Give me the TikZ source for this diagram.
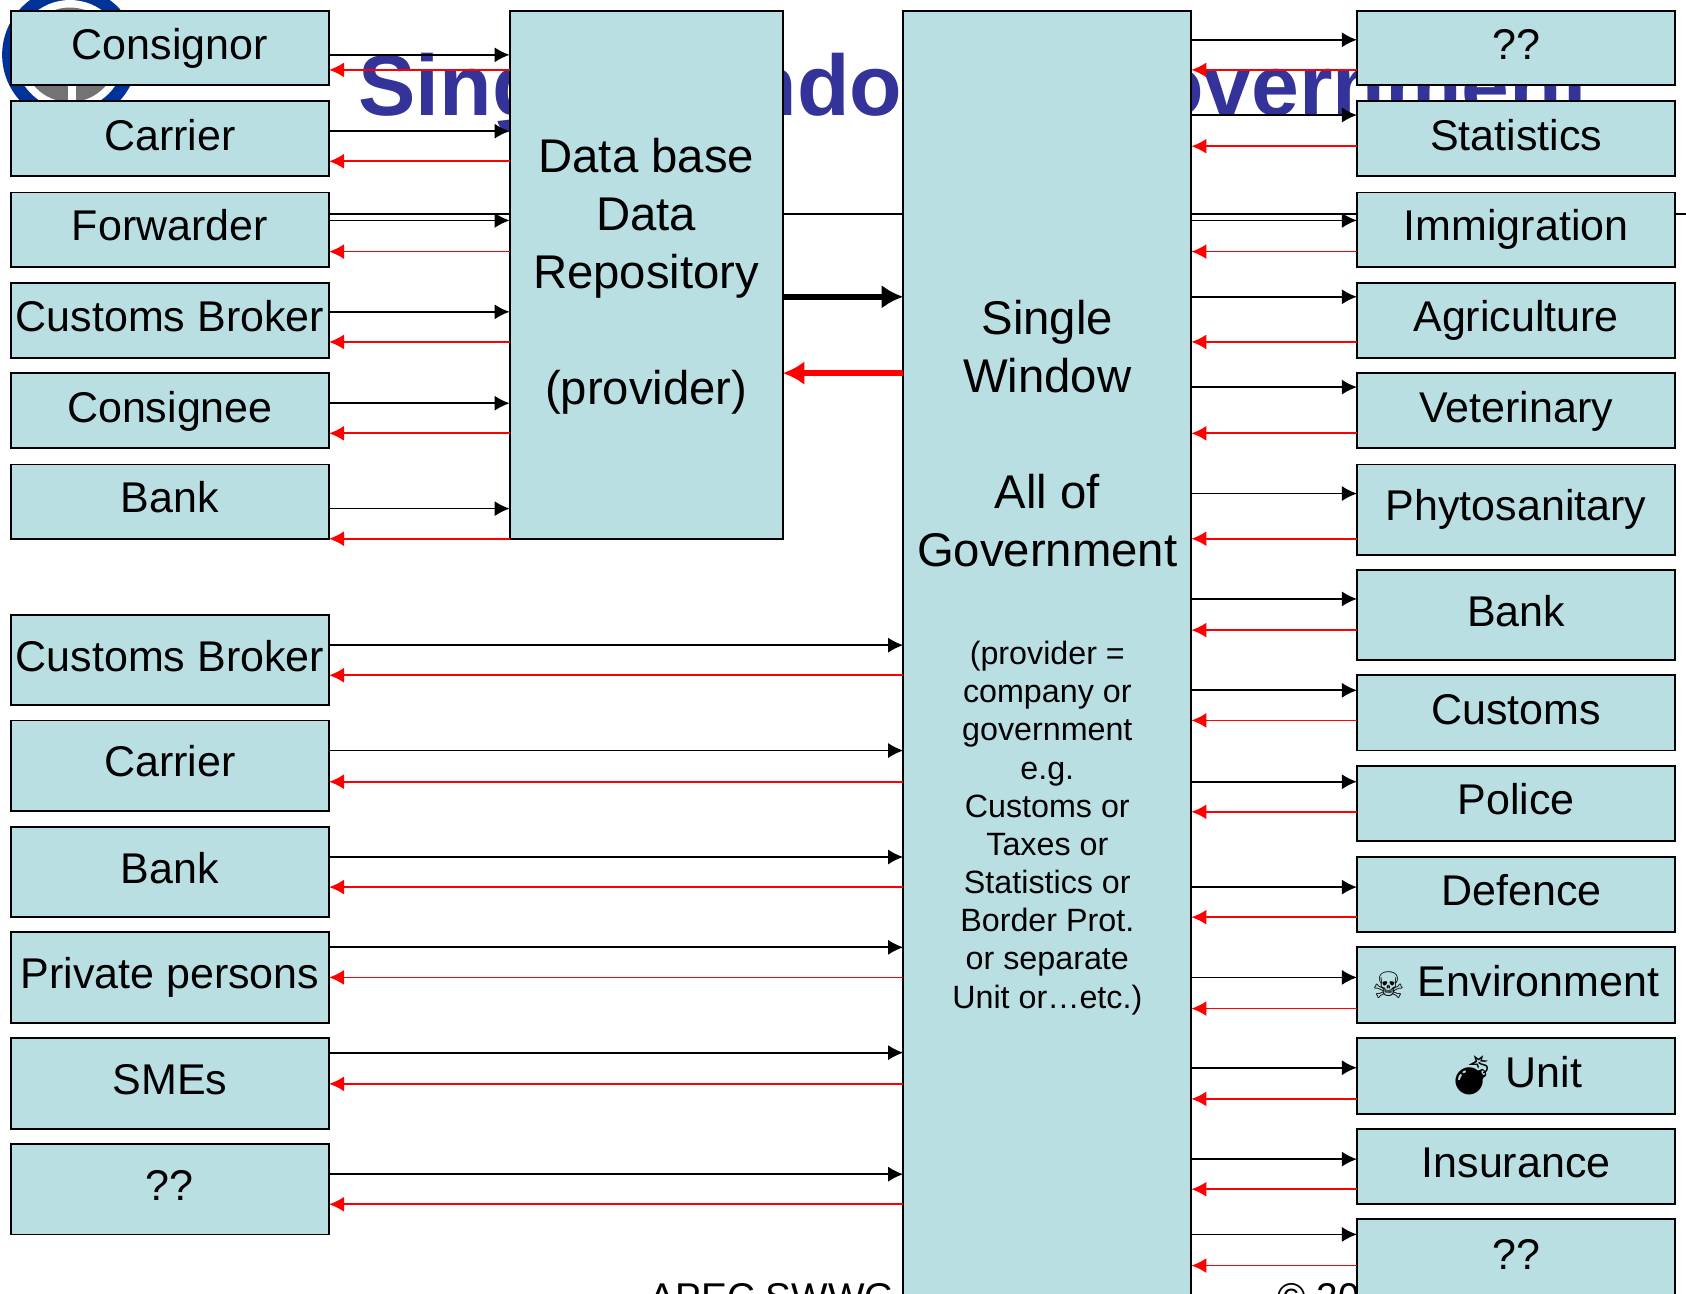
\documentclass[tikz,border=0pt]{standalone}
\usepackage{fontspec}
\setmainfont{Liberation Sans}
\newfontfamily\emojifont{Noto Emoji}
\newfontfamily\symfont{DejaVu Sans}
\usetikzlibrary{backgrounds,arrows.meta}
\definecolor{boxfill}{HTML}{B9DFE3}
\definecolor{titleblue}{HTML}{333399}
\definecolor{logoblue}{HTML}{003399}
\tikzset{
  x=1pt,y=-1pt,
  panel/.style={draw=black,line width=1.7pt,fill=boxfill,inner sep=0pt,outer sep=0pt,
    font=\fontsize{40}{48}\selectfont,text height=29pt,text depth=8pt,align=center},
  bigtext/.style={font=\fontsize{44}{54}\selectfont,align=center,inner sep=0pt},
  smalltext/.style={font=\fontsize{30}{35.5}\selectfont,align=center,inner sep=0pt},
  sendline/.style={draw=black,line width=1.6pt,-{Latex[length=14pt,width=14pt]}},
  replyline/.style={draw=red,line width=1.6pt,-{Latex[length=14pt,width=14pt]}},
  thicksend/.style={draw=black,line width=5.5pt,-{Latex[length=20pt,width=22pt]}},
  thickreply/.style={draw=red,line width=5.5pt,-{Latex[length=20pt,width=22pt]}},
  wire/.style={draw=black,line width=1.6pt},
  titletext/.style={text=titleblue,font=\fontsize{80}{90}\selectfont\bfseries,inner sep=0pt,anchor=base west},
  foot/.style={font=\fontsize{36}{40}\selectfont,inner sep=0pt,anchor=base west}
}
\newcommand{\panelbox}[6]{%
  \pgfmathsetmacro{\pw}{#4-#2}\pgfmathsetmacro{\ph}{#5-#3}%
  \node[panel,minimum width=\pw pt,minimum height=\ph pt] (#1) at ({(#2+#4)/2},{(#3+#5)/2}) {#6};}
\begin{document}
\begin{tikzpicture}
\useasboundingbox (0,0) rectangle (1568,1203);
% boxes
\panelbox{l1}{10}{10}{306}{79}{Consignor}
\panelbox{l2}{10}{94}{306}{164}{Carrier}
\panelbox{l3}{10}{179}{306}{248}{Forwarder}
\panelbox{l4}{10}{263}{306}{333}{Customs Broker}
\panelbox{l5}{10}{347}{306}{417}{Consignee}
\panelbox{l6}{10}{432}{306}{501}{Bank}
\panelbox{m1}{10}{572}{306}{656}{Customs Broker}
\panelbox{m2}{10}{670}{306}{754}{Carrier}
\panelbox{m3}{10}{769}{306}{853}{Bank}
\panelbox{m4}{10}{867}{306}{951}{Private persons}
\panelbox{m5}{10}{965}{306}{1050}{SMEs}
\panelbox{m6}{10}{1064}{306}{1148}{??}
\panelbox{db}{474}{10}{728}{501}{}
\panelbox{sw}{840}{10}{1108}{1230}{}
\panelbox{r1}{1262}{10}{1558}{79}{??}
\panelbox{r2}{1262}{94}{1558}{164}{Statistics}
\panelbox{r3}{1262}{179}{1558}{248}{Immigration}
\panelbox{r4}{1262}{263}{1558}{333}{Agriculture}
\panelbox{r5}{1262}{347}{1558}{417}{Veterinary}
\panelbox{r6}{1262}{432}{1558}{516}{Phytosanitary}
\panelbox{r7}{1262}{530}{1558}{614}{Bank}
\panelbox{r8}{1262}{628}{1558}{698}{Customs}
\panelbox{r9}{1262}{712}{1558}{782}{Police}
\panelbox{r10}{1262}{797}{1558}{867}{\hspace*{10pt}Defence}
\panelbox{r11}{1262}{881}{1558}{951}{\hspace*{42pt}Environment}
\panelbox{r12}{1262}{965}{1558}{1036}{\hspace*{52pt}Unit}
\panelbox{r13}{1262}{1050}{1558}{1120}{Insurance}
\panelbox{r14}{1262}{1134}{1558}{1230}{}
\node[font=\fontsize{40}{48}\selectfont,inner sep=0pt,text height=29pt,text depth=8pt] (r14t) at (1410,1170) {??};
\node[inner sep=0pt,font=\symfont\fontsize{34}{34}\selectfont] (skull) at (1292,916) {☠};
\node[inner sep=0pt,font=\emojifont\fontsize{36}{36}\selectfont] (bomb) at (1369,1000) {💣};
% box texts
\node[bigtext] (dbt) at (601,257) {Data base\\Data\\Repository\\~\\(provider)};
\node[bigtext] (swt) at (974,403) {Single\\Window\\~\\All of\\Government};
\node[smalltext] (swn) at (974,770) {(provider =\\company or\\government\\e.g.\hspace*{10pt}\\Customs or\hspace*{30pt}\\Taxes or\\Statistics or\\Border Prot.\\or separate\\Unit or…etc.)};
% background
\begin{pgfonlayer}{background}
  \fill[white] (0,0) rectangle (1568,1203);
  \fill[logoblue] (65,51) circle (63);
  \fill[white] (65,51) circle (51);
  \fill[black!55] (65,51) circle (44);
  \fill[white] (63,60) rectangle (71,100);
  \fill[white] (0,94) rectangle (1568,120);
  \node[titletext] (title1) at (333,107) {Single Window};
  \node[titletext] (title2) at (1008,107) {Government};
  \node[foot] (foot1) at (604,1219) {APEC SWWG M};
  \node[foot] (foot2) at (1188,1219) {© 20};
  \draw[wire] (l3.east |- 0,199) -- (1568,199);
\end{pgfonlayer}
% connectors left top
\foreach \n/\a/\b in {l1/51/65,l2/122/150,l3/205/234,l4/290/318,l5/375/403,l6/473/501}{
  \draw[sendline] (\n.east |- 0,\a) -- (db.west |- 0,\a);
  \draw[replyline] (db.west |- 0,\b) -- (\n.east |- 0,\b);
}
\foreach \n/\a/\b in {m1/600/628,m2/698/727,m3/797/825,m4/881/909,m5/979/1008,m6/1092/1120}{
  \draw[sendline] (\n.east |- 0,\a) -- (sw.west |- 0,\a);
  \draw[replyline] (sw.west |- 0,\b) -- (\n.east |- 0,\b);
}
\foreach \n/\a/\b in {r1/37/65,r2/107/136,r3/205/234,r4/276/318,r5/360/403,r6/459/501,r7/557/586,r8/642/670,r9/727/755,r10/825/853,r11/909/938,r12/993/1022,r13/1078/1106,r14/1148/1177}{
  \draw[sendline] (sw.east |- 0,\a) -- (\n.west |- 0,\a);
  \draw[replyline] (\n.west |- 0,\b) -- (sw.east |- 0,\b);
}
\draw[thicksend] (db.east |- 0,276) -- (sw.west |- 0,276);
\draw[thickreply] (sw.west |- 0,347) -- (db.east |- 0,347);
\end{tikzpicture}
\end{document}
